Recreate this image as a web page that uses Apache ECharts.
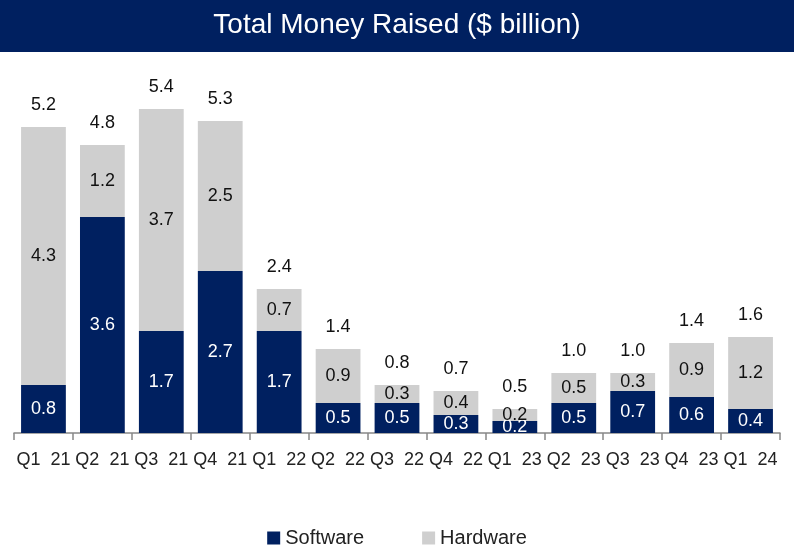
<!DOCTYPE html>
<html>
<head>
<meta charset="utf-8">
<script src="https://cdn.jsdelivr.net/npm/echarts@6/dist/echarts.min.js"></script>
<style>
  html, body { margin: 0; padding: 0; background: #fff; }
  #chart { width: 794px; height: 548px; }
</style>
</head>
<body>
<div id="chart"></div>
<script>
const quarters = ['Q1 21', 'Q2 21', 'Q3 21', 'Q4 21', 'Q1 22', 'Q2 22', 'Q3 22', 'Q4 22', 'Q1 23', 'Q2 23', 'Q3 23', 'Q4 23', 'Q1 24']
const software = [0.8, 3.6, 1.7, 2.7, 1.7, 0.5, 0.5, 0.3, 0.2, 0.5, 0.7, 0.6, 0.4]
const hardware = [4.3, 1.2, 3.7, 2.5, 0.7, 0.9, 0.3, 0.4, 0.2, 0.5, 0.3, 0.9, 1.2]
const totals = [5.2, 4.8, 5.4, 5.3, 2.4, 1.4, 0.8, 0.7, 0.5, 1.0, 1.0, 1.4, 1.6]

const navy = '#002060'
const grey = '#cfcfcf'
const font = 'Liberation Sans, Arial, sans-serif'

const chartInstance = echarts.init(document.getElementById('chart'))

const option = {
    animation: false,
    textStyle: { fontFamily: font },
    graphic: [{
        type: 'rect',
        left: 0,
        top: 0,
        shape: { width: 794, height: 52 },
        style: { fill: navy }
    }, {
        type: 'text',
        left: 'center',
        top: 11,
        style: {
            text: 'Total Money Raised ($ billion)',
            fill: '#fff',
            font: '28px ' + font
        }
    }],
    grid: {
        left: 14,
        right: 14,
        top: 73,
        bottom: 115
    },
    legend: {
        top: 523,
        left: 'center',
        itemGap: 58,
        itemWidth: 13,
        itemHeight: 13,
        icon: 'rect',
        textStyle: { fontSize: 20, color: '#222', fontFamily: font },
        data: ['Software', 'Hardware']
    },
    xAxis: {
        type: 'category',
        data: quarters,
        axisLine: { lineStyle: { color: '#888', width: 1.5 } },
        axisTick: { show: true, length: 7, lineStyle: { color: '#888', width: 1.5 } },
        axisLabel: {
            color: '#222',
            fontSize: 18,
            margin: 18,
            interval: 0,
            formatter: v => v.replace(' ', '  ')
        }
    },
    yAxis: {
        type: 'value',
        min: 0,
        max: 6,
        show: false
    },
    series: [{
        name: 'Software',
        type: 'bar',
        stack: 'total',
        barWidth: '76%',
        itemStyle: { color: navy },
        label: {
            show: true,
            position: 'inside',
            color: '#fff',
            fontSize: 18,
            formatter: p => p.value.toFixed(1)
        },
        data: software
    }, {
        name: 'Hardware',
        type: 'bar',
        stack: 'total',
        itemStyle: { color: grey },
        label: {
            show: true,
            position: 'inside',
            color: '#111',
            fontSize: 18,
            formatter: p => p.value.toFixed(1)
        },
        data: hardware
    }, {
        name: 'Total',
        type: 'bar',
        stack: 'total',
        itemStyle: { color: 'transparent' },
        label: {
            show: true,
            position: 'top',
            distance: 13,
            color: '#111',
            fontSize: 18,
            formatter: p => totals[p.dataIndex].toFixed(1)
        },
        data: totals.map(() => 0)
    }]
}

chartInstance.setOption(option)
</script>
</body>
</html>
